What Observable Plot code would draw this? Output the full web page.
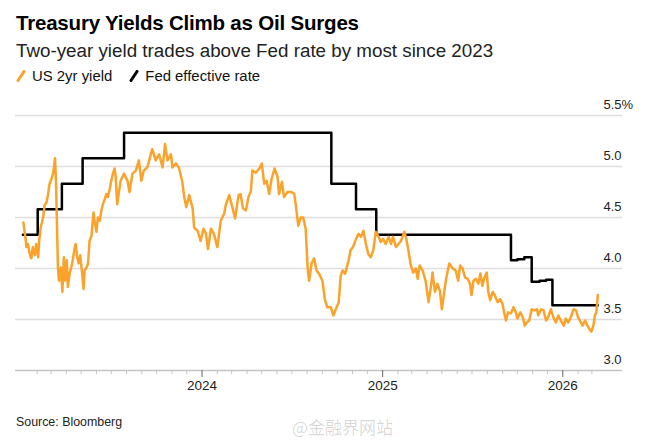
<!DOCTYPE html>
<html>
<head>
<meta charset="utf-8">
<script src="https://cdn.jsdelivr.net/npm/d3@7"></script>
<script src="https://cdn.jsdelivr.net/npm/@observablehq/plot@0.6"></script>
<style>
  body { margin: 0; background: #fff; font-family: "Liberation Sans", Arial, Helvetica, sans-serif; }
  #wrap { position: relative; width: 656px; height: 441px; overflow: hidden; background: #fff; }
  .t { position: absolute; left: 16px; white-space: nowrap; }
  #title { top: 11px; font-size: 20.5px; line-height: 24px; font-weight: bold; color: #000; letter-spacing: -0.2px; }
  #subtitle { top: 40px; font-size: 18.8px; line-height: 22px; color: #222; }
  #legend { top: 67px; font-size: 14.9px; line-height: 18px; color: #111; display: flex; align-items: center; }
  #legend .item { display: flex; align-items: center; margin-right: 17px; }
  #legend svg { margin-right: 6px; }
  #source { top: 414px; font-size: 12.4px; line-height: 16px; color: #222; }
  #wm { position: absolute; left: 292px; top: 414px; font-family: "Noto Sans CJK SC", sans-serif; font-size: 17px; color: rgba(0,0,0,0.16); white-space: nowrap; }
  #chart { position: absolute; left: 0; top: 88px; }
</style>
</head>
<body>
<div id="wrap">
  <div class="t" id="title">Treasury Yields Climb as Oil Surges</div>
  <div class="t" id="subtitle">Two-year yield trades above Fed rate by most since 2023</div>
  <div class="t" id="legend"></div>
  <div id="chart"></div>
  <div class="t" id="source">Source: Bloomberg</div>
  <div id="wm">@金融界网站</div>
</div>
<script>
// ---- Data ----
const seriesNames = ["US 2yr yield", "Fed effective rate"];
const seriesColors = ["#fba22b", "#000000"];

const yield2023 = [
  ["2023-01-04",4.45],["2023-01-09",4.27],["2023-01-10",4.21],["2023-01-13",4.24],["2023-01-17",4.14],
  ["2023-01-20",4.10],["2023-01-23",4.21],["2023-01-27",4.13],["2023-01-30",4.24],["2023-02-03",4.11],
  ["2023-02-05",4.27],["2023-02-08",4.40],["2023-02-13",4.50],["2023-02-16",4.62],["2023-02-20",4.65],
  ["2023-02-23",4.73],["2023-02-26",4.83],["2023-03-02",4.88],["2023-03-05",4.93],["2023-03-07",4.99],
  ["2023-03-09",5.08],["2023-03-11",4.86],["2023-03-13",4.44],["2023-03-15",4.01],["2023-03-17",3.88],
  ["2023-03-21",4.01],["2023-03-24",3.77],["2023-03-27",4.11],["2023-03-30",3.88],["2023-04-02",4.08],
  ["2023-04-04",3.82],["2023-04-08",3.96],["2023-04-11",4.01],["2023-04-14",4.08],["2023-04-18",4.21],
  ["2023-04-20",4.24],["2023-04-23",4.11],["2023-04-26",4.05],["2023-04-29",4.13],["2023-05-03",3.95],
  ["2023-05-06",3.80],["2023-05-08",3.98],["2023-05-12",4.01],["2023-05-15",4.05],["2023-05-18",4.27],
  ["2023-05-22",4.32],["2023-05-26",4.55],["2023-05-28",4.47],["2023-06-01",4.36],["2023-06-04",4.50],
  ["2023-06-08",4.47],["2023-06-11",4.57],["2023-06-14",4.63],["2023-06-18",4.68],["2023-06-21",4.73],
  ["2023-06-24",4.70],["2023-06-28",4.78],["2023-07-01",4.86],["2023-07-05",4.94],["2023-07-08",4.98],
  ["2023-07-10",4.90],["2023-07-13",4.63],["2023-07-16",4.73],["2023-07-20",4.86],["2023-07-27",4.93],
  ["2023-08-03",4.86],["2023-08-07",4.75],["2023-08-13",4.93],["2023-08-20",4.96],["2023-08-26",5.06],
  ["2023-08-31",4.86],["2023-09-05",4.96],["2023-09-12",4.99],["2023-09-22",5.17],["2023-09-29",5.06],
  ["2023-10-06",5.12],["2023-10-13",4.99],["2023-10-18",5.22],["2023-10-23",5.06],["2023-10-30",5.12],
  ["2023-11-02",4.99],["2023-11-09",5.03],["2023-11-15",4.99],["2023-11-22",4.85],["2023-11-26",4.70],
  ["2023-11-30",4.60],["2023-12-06",4.72],["2023-12-13",4.59],["2023-12-16",4.40],["2023-12-23",4.37],
  ["2023-12-29",4.27]
];
const yield2024 = [
  ["2024-01-04",4.39],["2024-01-09",4.34],["2024-01-13",4.19],["2024-01-19",4.39],["2024-01-25",4.34],
  ["2024-02-01",4.21],["2024-02-08",4.47],["2024-02-15",4.54],["2024-02-18",4.62],["2024-02-25",4.72],
  ["2024-03-03",4.59],["2024-03-08",4.49],["2024-03-15",4.72],["2024-03-19",4.73],["2024-03-24",4.59],
  ["2024-03-30",4.57],["2024-04-04",4.70],["2024-04-09",4.76],["2024-04-12",4.96],["2024-04-19",4.94],
  ["2024-04-26",4.98],["2024-05-01",5.03],["2024-05-06",4.83],["2024-05-11",4.86],["2024-05-16",4.73],
  ["2024-05-21",4.88],["2024-05-27",4.98],["2024-06-02",4.90],["2024-06-05",4.73],["2024-06-11",4.85],
  ["2024-06-15",4.70],["2024-06-22",4.75],["2024-06-30",4.75],["2024-07-06",4.73],["2024-07-09",4.62],
  ["2024-07-14",4.42],["2024-07-19",4.50],["2024-07-24",4.50],["2024-07-29",4.39],["2024-08-02",4.00],
  ["2024-08-05",3.88],["2024-08-10",4.05],["2024-08-15",4.10],["2024-08-20",3.98],["2024-08-25",3.95],
  ["2024-09-01",3.88],["2024-09-06",3.69],["2024-09-11",3.62],["2024-09-18",3.62],["2024-09-23",3.54],
  ["2024-09-28",3.60],["2024-10-04",3.67],["2024-10-08",3.93],["2024-10-12",3.98],["2024-10-17",3.95],
  ["2024-10-24",4.08],["2024-10-28",4.18],["2024-11-02",4.21],["2024-11-08",4.29],["2024-11-13",4.34],
  ["2024-11-18",4.31],["2024-11-23",4.37],["2024-11-28",4.24],["2024-12-03",4.14],["2024-12-08",4.11],
  ["2024-12-13",4.18],["2024-12-18",4.36],["2024-12-24",4.31],["2024-12-28",4.26]
];
const yield2025 = [
  ["2025-01-02",4.29],["2025-01-07",4.24],["2025-01-13",4.31],["2025-01-18",4.24],["2025-01-22",4.31],
  ["2025-01-28",4.21],["2025-02-02",4.24],["2025-02-07",4.27],["2025-02-14",4.36],["2025-02-18",4.29],
  ["2025-02-22",4.18],["2025-02-27",4.03],["2025-03-04",3.96],["2025-03-09",4.00],["2025-03-13",3.90],
  ["2025-03-17",4.03],["2025-03-23",3.98],["2025-03-29",3.88],["2025-04-04",3.67],["2025-04-09",3.83],
  ["2025-04-12",3.96],["2025-04-17",3.77],["2025-04-22",3.85],["2025-04-27",3.78],["2025-05-01",3.60],
  ["2025-05-06",3.78],["2025-05-10",3.91],["2025-05-16",4.05],["2025-05-23",4.00],["2025-05-29",3.98],
  ["2025-06-03",3.88],["2025-06-07",4.03],["2025-06-12",4.00],["2025-06-17",3.91],["2025-06-22",3.90],
  ["2025-06-27",3.85],["2025-06-30",3.74],["2025-07-04",3.88],["2025-07-09",3.90],["2025-07-14",3.85],
  ["2025-07-18",3.95],["2025-07-22",3.83],["2025-07-26",3.91],["2025-07-31",3.96],["2025-08-03",3.77],
  ["2025-08-07",3.69],["2025-08-12",3.77],["2025-08-16",3.74],["2025-08-22",3.67],["2025-08-27",3.70],
  ["2025-09-01",3.65],["2025-09-04",3.57],["2025-09-08",3.49],["2025-09-12",3.57],["2025-09-18",3.56],
  ["2025-09-23",3.62],["2025-09-28",3.57],["2025-10-01",3.51],["2025-10-07",3.57],["2025-10-12",3.52],
  ["2025-10-16",3.44],["2025-10-20",3.47],["2025-10-25",3.49],["2025-10-30",3.60],["2025-11-04",3.59],
  ["2025-11-10",3.60],["2025-11-12",3.54],["2025-11-18",3.60],["2025-11-23",3.59],["2025-11-28",3.49],
  ["2025-12-02",3.52],["2025-12-08",3.60],["2025-12-13",3.52],["2025-12-18",3.47],["2025-12-23",3.54],
  ["2025-12-28",3.49]
];
const yield2026 = [
  ["2026-01-03",3.44],["2026-01-07",3.51],["2026-01-12",3.47],["2026-01-17",3.52],["2026-01-23",3.60],
  ["2026-01-28",3.59],["2026-02-01",3.52],["2026-02-07",3.47],["2026-02-10",3.44],["2026-02-15",3.49],
  ["2026-02-20",3.44],["2026-02-26",3.39],["2026-02-28",3.38],["2026-03-04",3.44],["2026-03-07",3.54],
  ["2026-03-10",3.57],["2026-03-13",3.74]
];

const fedDates  = ["2023-01-03","2023-02-02","2023-03-23","2023-05-04","2023-07-27","2024-09-19","2024-11-08","2024-12-19","2025-09-18","2025-10-01","2025-10-15","2025-10-30","2025-11-15","2025-11-28","2025-12-11","2026-03-13"];
const fedValues = [4.33, 4.58, 4.83, 5.08, 5.33, 4.83, 4.58, 4.33, 4.08, 4.09, 4.11, 3.87, 3.88, 3.89, 3.64, 3.64];

const yTicks = [3.0, 3.5, 4.0, 4.5, 5.0, 5.5];
const yearTicks = ["2024-01-01", "2025-01-01", "2026-01-01"];
const yearLabels = ["2024", "2025", "2026"];
const xDomain = ["2022-12-19", "2026-05-02"];
const monthFirst = "2023-02-01", monthLast = "2026-03-01";

// ---- Build tables ----
const toDate = s => new Date(s + "T00:00:00Z");
const yieldData = [...yield2023, ...yield2024, ...yield2025, ...yield2026].map(([d, v]) => ({date: toDate(d), value: v}));
const fedData = fedDates.map((d, i) => ({date: toDate(d), value: fedValues[i]}));
const yearDates = yearTicks.map(toDate);
const yearSet = new Set(yearDates.map(d => +d));
const monthDates = d3.utcMonth.range(toDate(monthFirst), d3.utcDay.offset(toDate(monthLast), 1)).filter(d => !yearSet.has(+d));
const yearLabelOf = d => yearLabels[yearDates.findIndex(y => +y === +d)];

// ---- Legend ----
const legend = document.getElementById("legend");
seriesNames.forEach((name, i) => {
  const item = document.createElement("div");
  item.className = "item";
  item.innerHTML = `<svg width="10" height="12" viewBox="0 0 10 12"><line x1="2" y1="10.5" x2="8" y2="1.5" stroke="${seriesColors[i]}" stroke-width="3" stroke-linecap="round"/></svg><span>${name}</span>`;
  legend.appendChild(item);
});

// ---- Chart ----
const chart = Plot.plot({
  width: 656,
  height: 312,
  marginLeft: 15,
  marginRight: 34,
  marginTop: 27,
  marginBottom: 30,
  style: {fontFamily: "'Liberation Sans', Arial, Helvetica, sans-serif", fontSize: "13px", color: "#222", background: "transparent", overflow: "visible"},
  x: {type: "utc", domain: xDomain.map(toDate)},
  y: {domain: [3, 5.5]},
  marks: [
    Plot.gridY(yTicks.filter(v => v > 3), {stroke: "#dedede", strokeOpacity: 1, strokeWidth: 1.3}),
    Plot.ruleY([3], {stroke: "#c4c4c4", strokeWidth: 1.3}),
    Plot.axisX(monthDates, {tickSize: 4, stroke: "#c4c4c4", tickFormat: () => "", label: null}),
    Plot.axisX(yearDates, {tickSize: 7, stroke: "#666", tickPadding: 3, tickFormat: yearLabelOf, label: null, fill: "#222", fontSize: 13.5}),
    Plot.axisY(yTicks, {anchor: "right", tickSize: 0, tickPadding: 0, dx: -19, dy: -11, textAnchor: "start",
      tickFormat: d => d === 5.5 ? "5.5%" : d.toFixed(1), label: null, fill: "#222", fontSize: 13}),
    Plot.line(fedData, {x: "date", y: "value", curve: "step-after", stroke: seriesColors[1], strokeWidth: 2.5}),
    Plot.line(yieldData, {x: "date", y: "value", stroke: seriesColors[0], strokeWidth: 2.5, strokeLinejoin: "round"})
  ]
});
document.getElementById("chart").appendChild(chart);
</script>
</body>
</html>
